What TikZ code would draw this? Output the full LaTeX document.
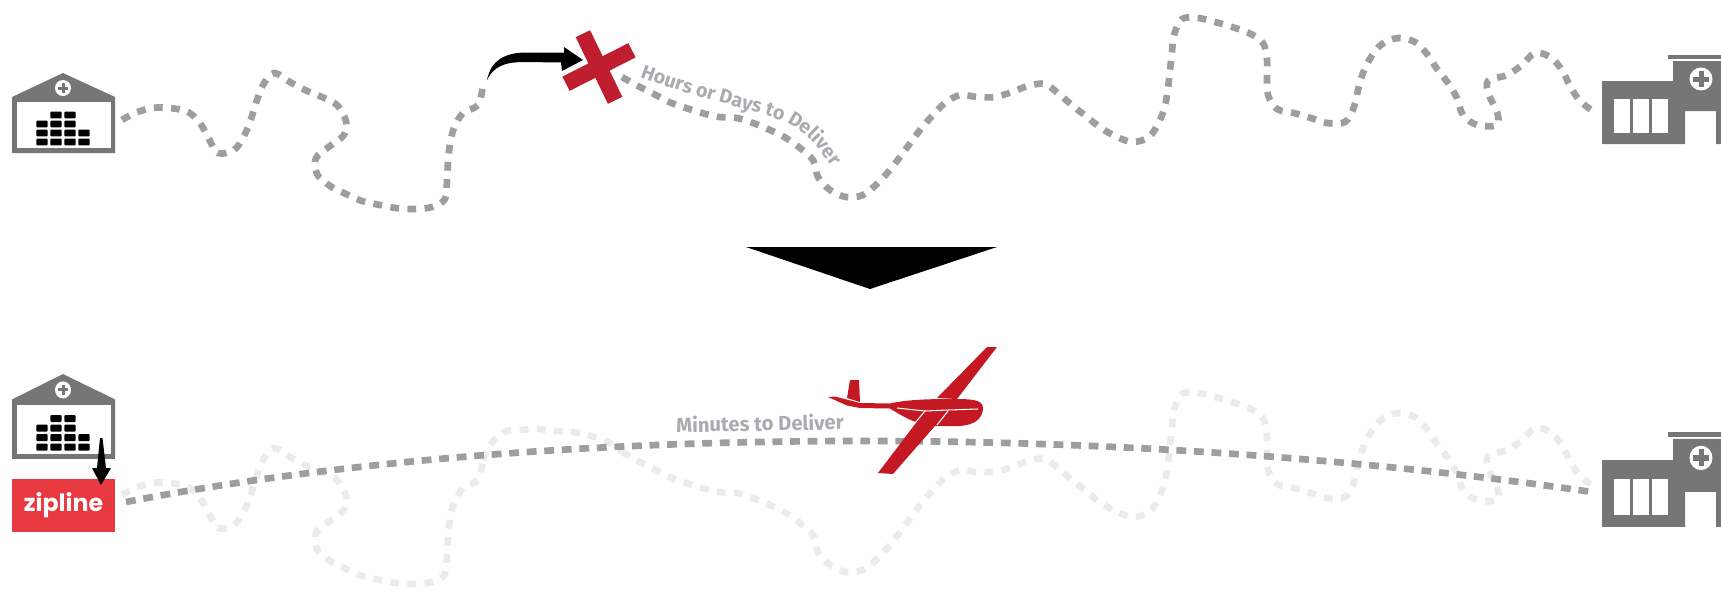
\documentclass[tikz,border=0pt]{standalone}
\usepackage{fontspec}
\setmainfont{Fira Sans}
\newfontfamily\brandfont{Poppins}
\usetikzlibrary{arrows.meta,positioning,calc,decorations.text}
\definecolor{bldG}{RGB}{118,118,118}
\definecolor{routeG}{RGB}{157,158,162}
\definecolor{labelG}{RGB}{170,171,175}
\definecolor{ghostG}{RGB}{235,235,235}
\definecolor{crossR}{RGB}{190,30,45}
\definecolor{zipR}{RGB}{233,57,64}
\definecolor{planeR}{RGB}{196,24,34}

\tikzset{
  depot/.pic={
    \fill[bldG] (0,24) -- (51,0) -- (103,24) -- (103,80) -- (0,80) -- cycle;
    \fill[white] (5,29) rectangle (99,75);
    \fill[white] (51,15) circle (8);
    \fill[bldG] (46,13.5) rectangle (56,16.5);
    \fill[bldG] (49.5,10) rectangle (52.5,20);
    \foreach \bx/\by in {44/42,58/42,30/51,44/51,58/51,30/60,44/60,58/60,72/60,30/69,44/69,58/69,72/69}
      \fill[black,rounded corners=0.5pt] (\bx-5.6,\by-3.3) rectangle (\bx+5.6,\by+3.3);
  },
  clinic/.pic={
    \fill[bldG] (0,0) -- (71,0) -- (71,-20) -- (119,-20) -- (119,63) -- (114,63) -- (114,30) -- (83,30) -- (83,63) -- (0,63) -- cycle;
    \fill[bldG] (66,-26) rectangle (119,-22);
    \foreach \wx in {12,31,50}
      \fill[white] (\wx,18) rectangle (\wx+16,52);
    \fill[white] (99,-2) circle (11.5);
    \fill[bldG] (91,-4.5) rectangle (107,0.5);
    \fill[bldG] (96.5,-10) rectangle (101.5,6);
  }
}

\newcommand{\walkin}[1]{\draw[#1] plot[smooth,tension=0.55] coordinates {(122,120) (135,113) (152,108) (170,108) (188,112) (200,123) (209,139) (218,153) (234,150) (244,136) (251,119) (256,103) (263,85) (274,73) (290,82) (305,90) (322,97) (337,105) (346,121) (344,135) (330,146) (316,158) (317,174) (330,186) (346,194) (362,201) (380,205) (396,208) (414,209) (432,207) (445,199) (447,180) (448,162) (450,144) (454,128) (463,113) (478,105) (483,85)};}
\newcommand{\walkgap}[1]{\draw[#1] plot[smooth,tension=0.55] coordinates {(483,85) (491,69) (504,57) (521,55) (538,54) (556,56) (573,57) (591,61) (608,67) (622,77)};}
\newcommand{\walkout}[1]{\draw[#1] plot[smooth,tension=0.55] coordinates {(622,77) (638,86) (654,94) (669,102) (686,108) (702,113) (719,117) (737,118) (753,123) (770,130) (786,138) (800,148) (813,160) (818,177) (830,190) (846,197) (863,195) (878,183) (889,171) (900,157) (920,130) (933,115) (945,103) (960,95) (977,97) (995,97) (1012,92) (1028,86) (1045,84) (1060,95) (1073,106) (1087,117) (1101,128) (1117,137) (1133,142) (1149,137) (1159,122) (1165,106) (1168,88) (1170,70) (1172,52) (1174,35) (1182,19) (1198,18) (1215,22) (1232,27) (1249,33) (1263,43) (1267,60) (1267,77) (1268,95) (1277,109) (1294,113) (1311,118) (1327,123) (1345,122) (1354,107) (1358,90) (1363,73) (1371,57) (1382,44) (1398,38) (1415,42) (1427,54) (1437,69) (1448,83) (1457,98) (1463,115) (1477,125) (1497,125) (1497,112) (1489,95) (1488,81) (1507,75) (1522,65) (1535,53) (1550,57) (1562,70) (1570,86) (1580,101) (1593,111)};}

\begin{document}
\begin{tikzpicture}[
  x=0.02cm, y=-0.02cm,
  roadwalk/.style={draw=routeG, line width=3.8pt, dash pattern=on 5pt off 4.8pt},
  ghostwalk/.style={draw=ghostG, line width=3.8pt, dash pattern=on 5pt off 4.8pt, shift={(0,375)}},
  airwalk/.style={draw=routeG, line width=3.8pt, dash pattern=on 5.6pt off 4.4pt},
  crossarm/.style={rectangle, fill=crossR, inner sep=0pt, minimum width=1.48cm, minimum height=0.32cm},
  lbl/.style={font=\bfseries\fontsize{11.5}{12}\selectfont, text=labelG, inner sep=0pt},
  zipbox/.style={rectangle, fill=zipR, text=white, minimum width=2.06cm, minimum height=1.06cm, inner sep=0pt,
                 font=\brandfont\bfseries\fontsize{13.5}{16}\selectfont}]

  \useasboundingbox (0,0) rectangle (1721,592);

  % faded old road under the air route
  \walkin{ghostwalk}
  \walkgap{ghostwalk}
  \walkout{ghostwalk}

  % road with the break in it
  \walkin{roadwalk}
  \walkout{roadwalk}
  \pic (depotA) at (12,73) {depot};
  \pic (clinicA) at (1602,81) {clinic};

  \node[crossarm, rotate=26.9] (crossA) at (599,67) {};
  \node[crossarm, rotate=-64.2] (crossB) at (599,67) {};

  \coordinate (swoopfoot) at (487,80);
  \coordinate (swooptip) at (583,60);
  \fill[black] (swoopfoot) .. controls (491,60) and (505,53) .. (525,52.5) -- (564,52.5) -- (564,47)
    -- (swooptip) -- (562,71) -- (561,62.5) -- (525,62) .. controls (505,62) and (494,66) .. (swoopfoot) -- cycle;

  \path[decorate, decoration={text along path, text color=labelG,
      text={|\bfseries\fontsize{11.2}{12}\selectfont|Hours or Days to Deliver}}]
    (640,77) .. controls (700,100) and (750,108) .. (788,123) .. controls (810,135) and (822,150) .. (850,195);

  % big pointer between the two scenes
  \fill[black] (746,247) -- (997,247) -- (870,289) -- cycle;

  % lower scene
  \pic[yscale=1.06] (depotB) at (12,374) {depot};
  \pic[yscale=1.06] (clinicB) at (1602,460) {clinic};
  \node[zipbox] (zip) at (63.5,505.5) {zipline};

  \coordinate (droptop) at (101,438);
  \coordinate (droptip) at (101,485);
  \fill[black] (droptop) -- ++(1.5,0) -- (106,468) -- (111,468) -- (droptip) -- (92,468) -- (97,468) -- (100,438) -- cycle;

  \coordinate (airstart) at (126,502);
  \coordinate (airend) at (1592,492);
  \draw[airwalk] (airstart) .. controls (520,425) and (1100,420) .. (airend);

  \node[lbl, rotate=1] (airlbl) at (760,423) {Minutes to Deliver};

  % drone
  \fill[planeR] (987,347) -- (997,347) -- (957,399) -- (937,398) -- cycle;
  \fill[planeR] (925,411) -- (948,411) -- (893,474) -- (878,473) -- cycle;
  \fill[planeR] (860,403) -- (890,403.5) .. controls (905,400) and (925,399) .. (950,399)
    .. controls (970,399) and (983,399) .. (983,408) .. controls (983,418) and (975,425) .. (960,426)
    -- (937,426) .. controls (920,426) and (905,418) .. (890,408.5) -- (860,408) -- cycle;
  \fill[planeR] (850,380) -- (859,380) -- (860,402) -- (847,398) -- cycle;
  \fill[planeR] (828,397) -- (835,396.5) -- (860,403) -- (860,408) -- (847,405.5) -- cycle;
  \draw[white, line width=0.6pt] (897,408) -- (925,411) -- (948,410) -- (978,409);
  \draw[white, line width=0.6pt] (925,411) -- (915,423);
  \draw[white, line width=0.6pt] (948,411) -- (937,425);
\end{tikzpicture}
\end{document}
